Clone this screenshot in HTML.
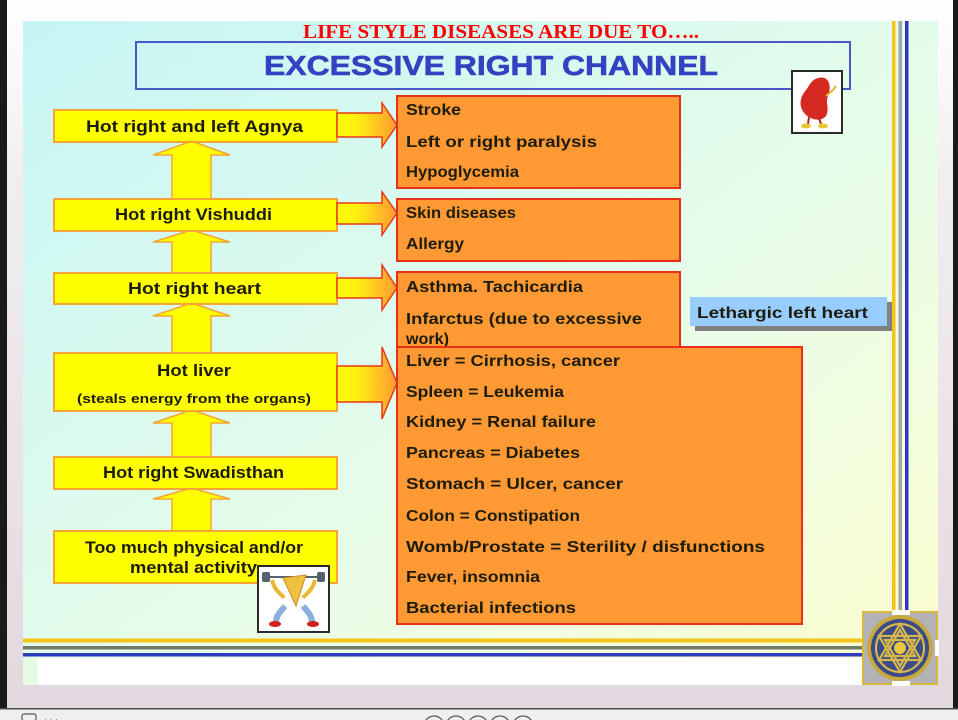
<!DOCTYPE html>
<html>
<head>
<meta charset="utf-8">
<style>
  html, body { margin: 0; padding: 0; width: 958px; height: 720px; overflow: hidden; background: #fff; }
  svg { display: block; }
  .t { font-family: "Liberation Sans", "DejaVu Sans", sans-serif; font-weight: bold; fill: #1c1c0c; }
</style>
</head>
<body>
<svg width="958" height="720" viewBox="0 0 958 720" xmlns="http://www.w3.org/2000/svg">
  <defs>
    <linearGradient id="frame" x1="0" y1="0" x2="0" y2="1">
      <stop offset="0" stop-color="#ffffff"/>
      <stop offset="0.25" stop-color="#f2eef0"/>
      <stop offset="1" stop-color="#e2d8df"/>
    </linearGradient>
    <linearGradient id="slide" x1="0" y1="0" x2="1" y2="1">
      <stop offset="0" stop-color="#c6f5f6"/>
      <stop offset="0.45" stop-color="#e0fbec"/>
      <stop offset="0.75" stop-color="#f1fde0"/>
      <stop offset="1" stop-color="#fdfdcc"/>
    </linearGradient>
    <linearGradient id="arr" x1="0" y1="0" x2="1" y2="0">
      <stop offset="0" stop-color="#ffff00"/>
      <stop offset="0.35" stop-color="#ffee10"/>
      <stop offset="1" stop-color="#ff9a33"/>
    </linearGradient>
  </defs>

  <!-- frame -->
  <rect x="0" y="0" width="958" height="708" fill="url(#frame)"/>
  <rect x="0" y="0" width="7" height="708" fill="#1a1a1a"/>
  <rect x="953" y="0" width="5" height="708" fill="#1a1a1a"/>
  <rect x="0" y="708" width="958" height="1.5" fill="#4a4a4a"/>
  <rect x="0" y="709.5" width="958" height="11" fill="#efefef"/>
  <rect x="22" y="714" width="14" height="8" fill="none" stroke="#555" stroke-width="1.2" rx="2"/>
  <text x="44" y="722" font-family="Liberation Sans, sans-serif" font-size="9" fill="#777">· · ·</text>
  <g fill="none" stroke="#555" stroke-width="1.2">
    <circle cx="434" cy="726" r="10"/>
    <circle cx="456" cy="726" r="10"/>
    <circle cx="478" cy="726" r="10"/>
    <circle cx="500" cy="726" r="10"/>
    <circle cx="523" cy="726" r="10"/>
  </g>

  <!-- slide -->
  <rect x="23" y="21" width="915" height="664" fill="url(#slide)"/>
  <rect x="38" y="658" width="825" height="27" fill="#ffffff"/>
  <rect x="23" y="658" width="15" height="27" fill="#e6fbe4"/>

  <!-- border lines -->
  <rect x="892" y="21" width="3.5" height="591" fill="#f3c419"/>
  <rect x="898.5" y="21" width="3.5" height="591" fill="#a4a4a0"/>
  <rect x="905" y="21" width="3.5" height="591" fill="#2f32c2"/>
  <rect x="23" y="638.5" width="840" height="4" fill="#f3c419"/>
  <rect x="23" y="646" width="840" height="3.5" fill="#737a6c"/>
  <rect x="23" y="653" width="840" height="3.5" fill="#2f3cc0"/>

  <!-- yantra -->
  <rect x="863" y="612" width="74" height="72" fill="#b4b4b8" stroke="#d8b83a" stroke-width="2"/>
  <rect x="892" y="610" width="18" height="5" fill="#ffffff"/>
  <rect x="935" y="640" width="4" height="16" fill="#ffffff"/>
  <rect x="892" y="681" width="18" height="5" fill="#ffffff"/>
  <circle cx="900" cy="648" r="33" fill="#c8a83a"/>
  <circle cx="900" cy="648" r="29" fill="#3a4a8a"/>
  <g fill="none" stroke="#d8b848" stroke-width="2.2">
    <circle cx="900" cy="648" r="24"/>
    <polygon points="900,624 921,660 879,660"/>
    <polygon points="900,672 921,636 879,636"/>
    <polygon points="900,630 915,656 885,656"/>
    <polygon points="900,666 915,640 885,640"/>
  </g>
  <circle cx="900" cy="648" r="6" fill="#e8c840"/>

  <!-- title -->
  <text x="303" y="38" font-family="Liberation Serif, serif" font-weight="bold" font-size="20" fill="#ff0000" textLength="396" lengthAdjust="spacingAndGlyphs">LIFE STYLE DISEASES ARE DUE TO…..</text>
  <rect x="136" y="42" width="714" height="47" fill="none" stroke="#4858c8" stroke-width="2"/>
  <text x="264" y="75" font-family="Liberation Sans, sans-serif" font-weight="bold" font-size="28" fill="#3342c2" stroke="#3342c2" stroke-width="0.6" textLength="454" lengthAdjust="spacingAndGlyphs">EXCESSIVE RIGHT CHANNEL</text>

  <!-- kidney icon -->
  <rect x="792" y="71" width="50" height="62" fill="#ffffff" stroke="#2a2a2a" stroke-width="2"/>
  <path d="M818,78 C829,75 832,86 828,96 C825,104 830,108 826,116 C821,122 811,120 805,114 C798,106 800,97 806,90 C810,85 811,80 818,78 Z" fill="#d42a22"/>
  <path d="M826,96 L833,90 L836,86" stroke="#d8b830" stroke-width="2" fill="none"/>
  <path d="M809,117 L808,124 M819,118 L821,124" stroke="#b02020" stroke-width="2"/>
  <ellipse cx="806" cy="126" rx="5" ry="2.5" fill="#e8c830"/>
  <ellipse cx="823" cy="126" rx="5" ry="2.5" fill="#e8c830"/>

  <!-- up arrows -->
  <g fill="#ffff00" stroke="#f5a533" stroke-width="1.5">
    <polygon points="191.5,141 230,155 211,155 211,199 172,199 172,155 153,155"/>
    <polygon points="191.5,230 230,242 211,242 211,273 172,273 172,242 153,242"/>
    <polygon points="191.5,303 230,316 211,316 211,353 172,353 172,316 153,316"/>
    <polygon points="191.5,410 230,423 211,423 211,457 172,457 172,423 153,423"/>
    <polygon points="191.5,488 230,499 211,499 211,531 172,531 172,499 153,499"/>
  </g>

  <!-- yellow boxes -->
  <g fill="#ffff00" stroke="#f5a533" stroke-width="2">
    <rect x="54" y="110" width="283" height="32"/>
    <rect x="54" y="199" width="283" height="32"/>
    <rect x="54" y="273" width="283" height="31"/>
    <rect x="54" y="353" width="283" height="58"/>
    <rect x="54" y="457" width="283" height="32"/>
    <rect x="54" y="531" width="283" height="52"/>
  </g>
  <text class="t" x="86" y="132" font-size="17" textLength="217" lengthAdjust="spacingAndGlyphs">Hot right and left Agnya</text>
  <text class="t" x="115" y="220" font-size="17" textLength="157" lengthAdjust="spacingAndGlyphs">Hot right Vishuddi</text>
  <text class="t" x="128" y="294" font-size="17" textLength="133" lengthAdjust="spacingAndGlyphs">Hot right heart</text>
  <text class="t" x="157" y="376" font-size="17" textLength="74" lengthAdjust="spacingAndGlyphs">Hot liver</text>
  <text class="t" x="77" y="403" font-size="13" textLength="234" lengthAdjust="spacingAndGlyphs">(steals energy from the organs)</text>
  <text class="t" x="103" y="478" font-size="17" textLength="181" lengthAdjust="spacingAndGlyphs">Hot right Swadisthan</text>
  <text class="t" x="85" y="553" font-size="17" textLength="218" lengthAdjust="spacingAndGlyphs">Too much physical and/or</text>
  <text class="t" x="130" y="573" font-size="17" textLength="127" lengthAdjust="spacingAndGlyphs">mental activity</text>

  <!-- exerciser icon -->
  <rect x="258" y="566" width="71" height="66" fill="#ffffff" stroke="#2a2a2a" stroke-width="2"/>
  <rect x="262" y="572" width="8" height="10" fill="#556070" rx="2"/>
  <rect x="317" y="572" width="8" height="10" fill="#556070" rx="2"/>
  <path d="M270,577 L317,577" stroke="#556070" stroke-width="2"/>
  <path d="M272,580 C275,592 282,594 284,598 M315,580 C312,592 305,594 303,598" stroke="#e8b830" stroke-width="4" fill="none"/>
  <path d="M283,578 L306,575 L296,606 Z" fill="#f0c040" stroke="#c89020" stroke-width="1"/>
  <path d="M285,606 C280,612 276,616 276,622 M303,606 C308,612 312,616 312,622" stroke="#8ab0e0" stroke-width="6" fill="none"/>
  <ellipse cx="275" cy="624" rx="6" ry="3" fill="#d02020"/>
  <ellipse cx="313" cy="624" rx="6" ry="3" fill="#d02020"/>

  <!-- right arrows -->
  <g fill="url(#arr)" stroke="#e8381c" stroke-width="1.5">
    <polygon points="337,113 382,113 382,103 397,125 382,147 382,137 337,137"/>
    <polygon points="337,203 382,203 382,192 397,213 382,235 382,224 337,224"/>
    <polygon points="337,278 382,278 382,265 397,288 382,310 382,298 337,298"/>
    <polygon points="337,366 382,366 382,347 397,383 382,419 382,402 337,402"/>
  </g>

  <!-- orange boxes -->
  <g fill="#ff9933" stroke="#e6301a" stroke-width="2">
    <rect x="397" y="96" width="283" height="92"/>
    <rect x="397" y="199" width="283" height="62"/>
    <rect x="397" y="272" width="283" height="76"/>
  </g>
  <text class="t" x="406" y="115" font-size="16" textLength="55" lengthAdjust="spacingAndGlyphs">Stroke</text>
  <text class="t" x="406" y="147" font-size="16" textLength="191" lengthAdjust="spacingAndGlyphs">Left or right paralysis</text>
  <text class="t" x="406" y="177" font-size="16" textLength="113" lengthAdjust="spacingAndGlyphs">Hypoglycemia</text>
  <text class="t" x="406" y="218" font-size="16" textLength="110" lengthAdjust="spacingAndGlyphs">Skin diseases</text>
  <text class="t" x="406" y="249" font-size="16" textLength="58" lengthAdjust="spacingAndGlyphs">Allergy</text>
  <text class="t" x="406" y="292" font-size="16" textLength="177" lengthAdjust="spacingAndGlyphs">Asthma. Tachicardia</text>
  <text class="t" x="406" y="324" font-size="16" textLength="236" lengthAdjust="spacingAndGlyphs">Infarctus (due to excessive</text>
  <text class="t" x="406" y="344" font-size="16" textLength="43" lengthAdjust="spacingAndGlyphs">work)</text>

  <rect x="397" y="347" width="405" height="277" fill="#ff9933" stroke="#e6301a" stroke-width="2"/>
  <text class="t" x="406" y="366" font-size="16" textLength="214" lengthAdjust="spacingAndGlyphs">Liver = Cirrhosis, cancer</text>
  <text class="t" x="406" y="397" font-size="16" textLength="158" lengthAdjust="spacingAndGlyphs">Spleen = Leukemia</text>
  <text class="t" x="406" y="427" font-size="16" textLength="190" lengthAdjust="spacingAndGlyphs">Kidney = Renal failure</text>
  <text class="t" x="406" y="458" font-size="16" textLength="174" lengthAdjust="spacingAndGlyphs">Pancreas = Diabetes</text>
  <text class="t" x="406" y="489" font-size="16" textLength="217" lengthAdjust="spacingAndGlyphs">Stomach = Ulcer, cancer</text>
  <text class="t" x="406" y="521" font-size="16" textLength="174" lengthAdjust="spacingAndGlyphs">Colon = Constipation</text>
  <text class="t" x="406" y="552" font-size="16" textLength="359" lengthAdjust="spacingAndGlyphs">Womb/Prostate  = Sterility / disfunctions</text>
  <text class="t" x="406" y="582" font-size="16" textLength="134" lengthAdjust="spacingAndGlyphs">Fever, insomnia</text>
  <text class="t" x="406" y="613" font-size="16" textLength="170" lengthAdjust="spacingAndGlyphs">Bacterial infections</text>

  <!-- lethargic -->
  <rect x="695" y="302" width="197" height="29" fill="#808080"/>
  <rect x="690" y="297" width="197" height="29" fill="#99ccff"/>
  <text class="t" x="697" y="318" font-size="16" fill="#1c2430" textLength="171" lengthAdjust="spacingAndGlyphs">Lethargic left heart</text>
</svg>
</body>
</html>
